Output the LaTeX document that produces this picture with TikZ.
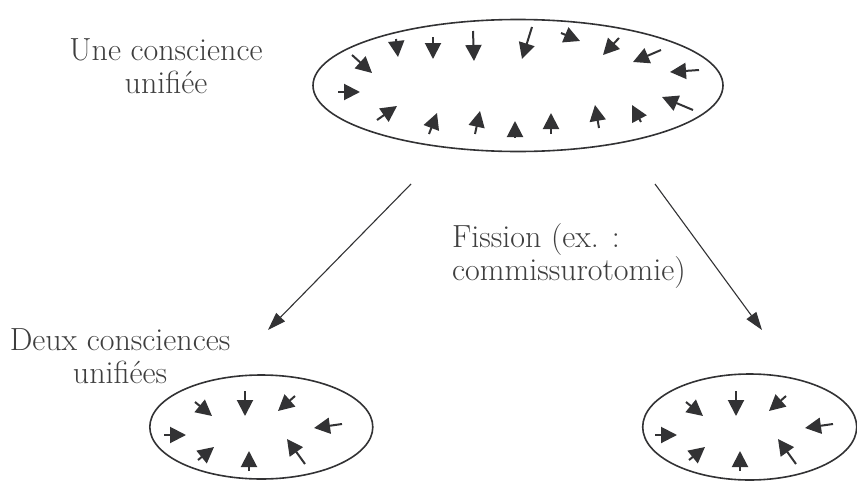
\documentclass[tikz,border=0pt]{standalone}
\usetikzlibrary{arrows.meta,shapes.geometric}
\definecolor{inkgray}{RGB}{50,50,52}
\definecolor{textgray}{RGB}{62,62,62}
\begin{document}
\begin{tikzpicture}[x=1pt,y=-1pt]

		\tikzset{mind/.style = {shape=ellipse,draw=inkgray,line width=1.6pt,inner sep=0pt,outer sep=0pt}}
		\tikzset{caption/.style = {text=textgray,font=\fontsize{32}{33}\selectfont,align=center,inner sep=0pt}}
		\tikzset{pull/.style = {draw=inkgray,line width=2pt,-{Triangle[length=16pt,width=16pt]}}}
		\tikzset{split/.style = {draw=inkgray,line width=1.1pt,-{Triangle[length=18pt,width=12pt]}}}
		\useasboundingbox (0,0) rectangle (857,482);
		% ellipses
		\node[mind,minimum width=410pt,minimum height=132pt] (one) at (518,85.5) {};
		\node[mind,minimum width=223pt,minimum height=104pt] (left) at (261.3,427) {};
		\node[mind,minimum width=214pt,minimum height=106pt] (right) at (749.7,427) {};
		% labels
		\node[caption] (unified) at (166,66) {Une conscience\\unifiée};
		\node[caption,align=left,anchor=west] (fission) at (452,256) {Fission (ex. :\\commissurotomie)};
		\node[caption] (two) at (120,356) {Deux consciences\\unifiées};
		% inner arrows
		\foreach \ax/\ay/\bx/\by in {352/55/372/73, 396/39/398/57, 433/37/433/59, 473/31/474/61,
			532/27/522/59, 561/33/580/41, 619/38/603/55, 661/50/633/62, 699/70/670/72,
			338/92/360/92, 377/120/397/106, 429/134/437/113, 475/134/480/111, 515/138/515/121,
			551/134/551/113, 599/128/595/105, 641/122/632/105, 693/110/662/97}
			\draw[pull] (\ax,\ay) -- (\bx,\by);
		\foreach \dx in {0,491}
		\foreach \ax/\ay/\bx/\by in {195/402/212/416, 245/391/245/416, 295/396/278/411, 342/424/314/428,
			164/435/186/435, 198/460/214/447, 249/471/249/451, 305/464/287/439}
			\draw[pull,xshift=\dx] (\ax,\ay) -- (\bx,\by);
		% fission
		\coordinate (fromL) at (411,184);
		\coordinate (toL) at (268,330);
		\coordinate (fromR) at (655,184);
		\coordinate (toR) at (762,330);
		\draw[split] (fromL) -- (toL);
		\draw[split] (fromR) -- (toR);
\end{tikzpicture}
\end{document}
